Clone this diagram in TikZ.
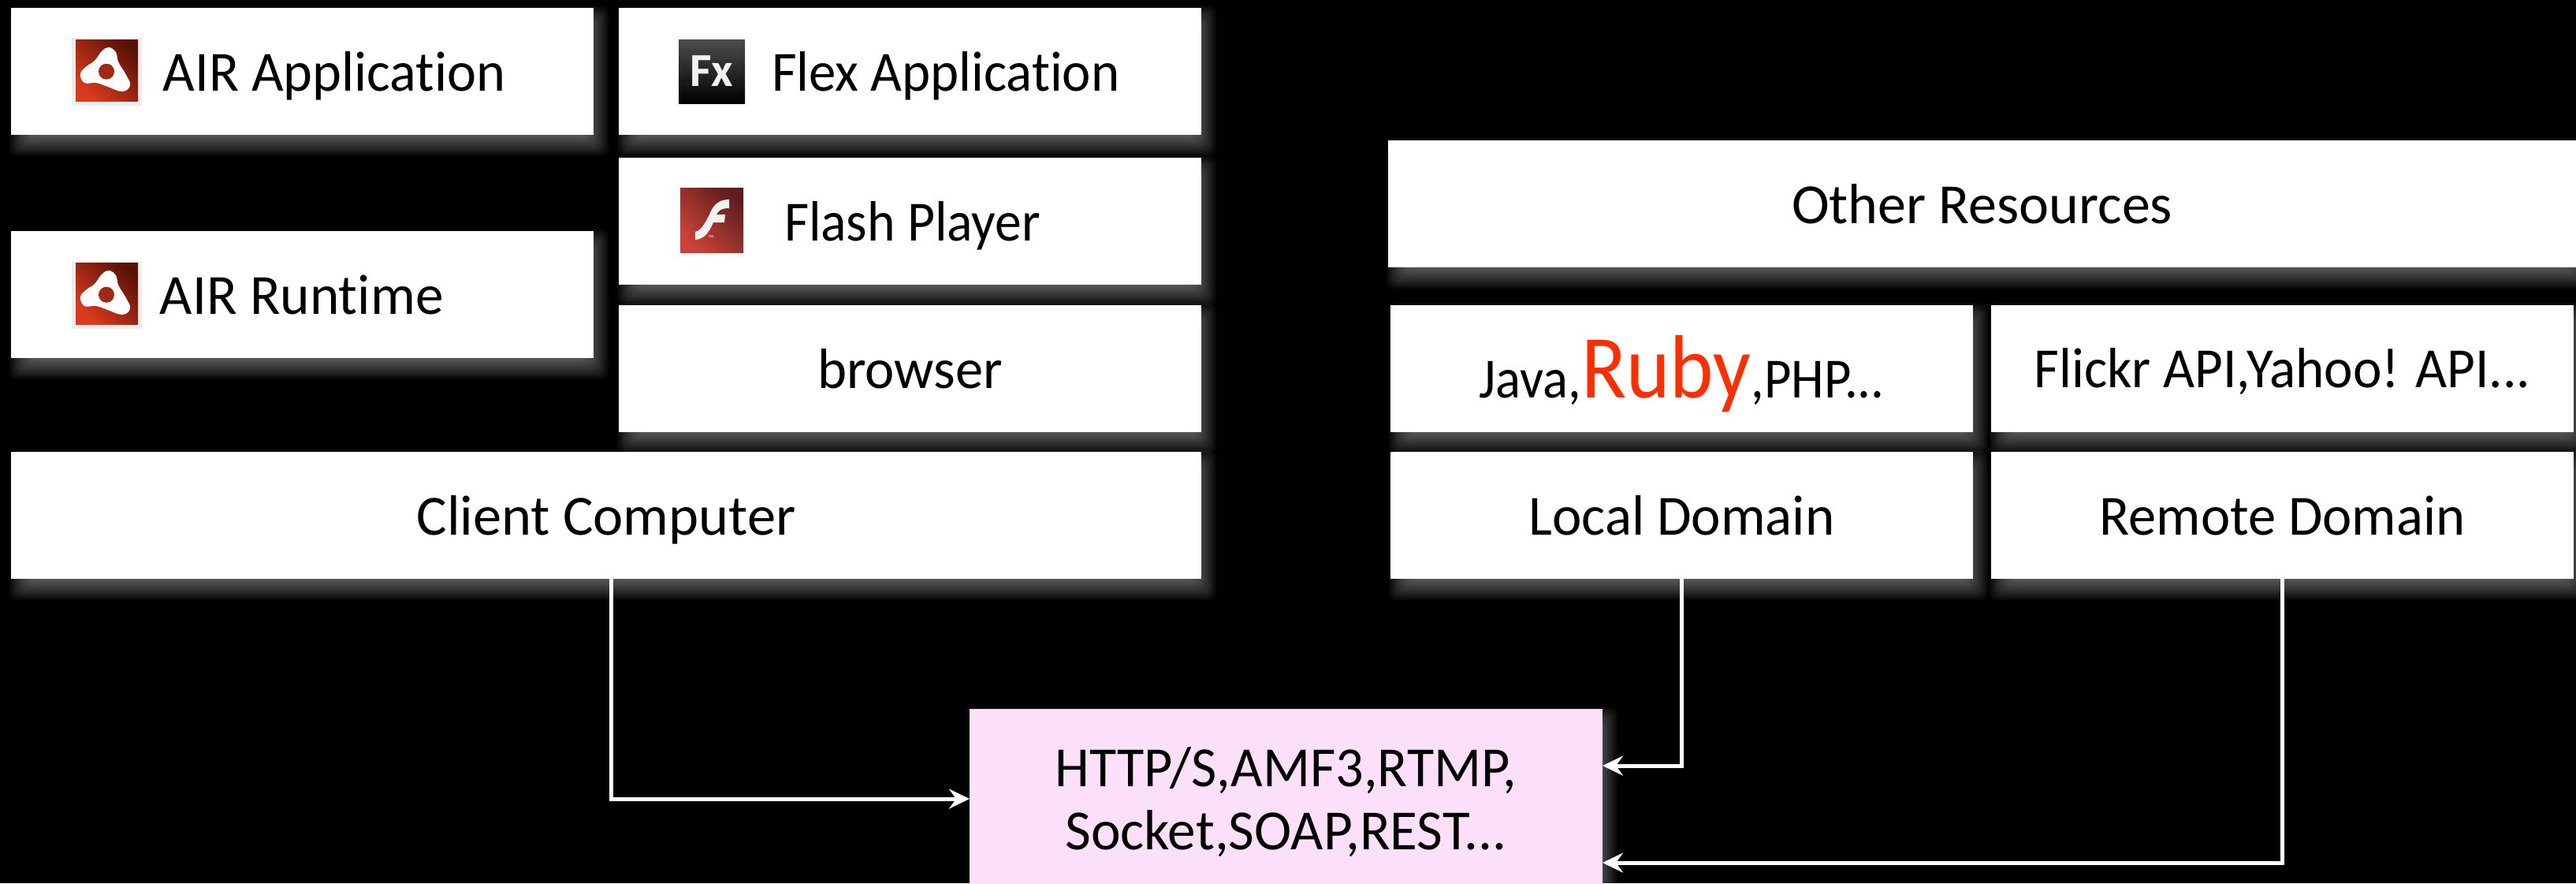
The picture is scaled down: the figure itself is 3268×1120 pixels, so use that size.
\documentclass[tikz,border=0pt]{standalone}
\usepackage{fontspec}
\setmainfont{Carlito}[Ligatures=NoCommon]
\usetikzlibrary{arrows.meta,backgrounds,calc}
\definecolor{pinkbox}{HTML}{FCE0FA}
\definecolor{rubyred}{HTML}{FF2E00}
\definecolor{airA}{HTML}{DC3A1E}
\definecolor{airB}{HTML}{5A1206}
\definecolor{airC}{HTML}{A02A12}
\definecolor{flA}{HTML}{CC4238}
\definecolor{flB}{HTML}{5E1E1E}
\newcommand{\lefttxt}[2]{\makebox[369.5pt][l]{\hspace*{#1}#2}}
\newcommand{\hs}[2]{{\addfontfeature{FakeStretch=#1}#2}}
\newcommand{\airicon}[1]{%
  \begin{scope}[yshift=#1]
    \fill[black!7] (91,48) rectangle (180,134);
    \shade[shading=axis,top color=airA,bottom color=airB,shading angle=135] (96,50) rectangle (175,128);
    \fill[white] plot[smooth cycle,tension=.7] coordinates {(138.3,60) (147.5,67) (150,78.3) (160,95) (165,108.3) (155,116) (136.7,110) (121.7,105) (107,105) (102,93.3) (110,84) (120,77) (129,65)};
    \fill[airC] (135,90.7) circle (10);
  \end{scope}}
\tikzset{
  panel/.style={rectangle,fill=white,text=black,inner sep=0pt,font=\fontsize{36}{40}\selectfont,text height=24.5pt,text depth=0pt,minimum height=80.5pt},
  wide/.style={panel,minimum width=369.5pt},
  link/.style={draw=white,line width=2.5pt,-{Stealth[length=13pt,width=12.5pt,inset=4.5pt]}},
}
\begin{document}
\begin{tikzpicture}[x=0.5pt,y=-0.5pt]
\useasboundingbox (0,0) rectangle (3268,1120);
\clip (0,0) rectangle (3268,1120);
\node[wide] (airapp) at (383.5,90.5) {\lefttxt{96.5pt}{\hs{.975}{AIR Application}}};
\node[wide] (airrun) at (383.5,373.5) {\lefttxt{94.5pt}{\hs{.99}{AIR Runtime}}};
\node[wide] (flexapp) at (1154.5,90.5) {\lefttxt{97pt}{\hs{.955}{Flex Application}}};
\node[wide] (flash) at (1154.5,280.5) {\lefttxt{105pt}{\hs{.94}{Flash Player}}};
\node[wide] (browser) at (1154.5,467.5) {\hs{.98}{browser}};
\node[panel,minimum width=755pt] (client) at (769,653.5) {\hs{1.005}{Client Computer}};
\node[panel,minimum width=753.5pt] (other) at (2514.5,258.5) {Other Resources};
\node[wide,text height=36.5pt] (java) at (2133.5,467.5) {\hs{.925}{Java,{\fontsize{57}{60}\selectfont\color{rubyred}Ruby},PHP...}};
\node[wide,text height=23.5pt] (flickr) at (2895.5,467.5) {\hs{.96}{Flickr API,Yahoo! API...}};
\node[wide] (local) at (2133.5,653.5) {\hs{.985}{Local Domain}};
\node[wide] (remote) at (2895.5,653.5) {\hs{.98}{Remote Domain}};
\node[panel,fill=pinkbox,minimum width=401.5pt,minimum height=113.5pt,text height=,align=center] (proto) at (1631.5,1012.5) {\hs{.975}{HTTP/S,AMF3,RTMP,}\\\hs{.99}{Socket,SOAP,REST...}};
\begin{scope}[on background layer]
  \fill[black] (0,0) rectangle (3268,1120);
  \foreach \n in {airapp,airrun,flexapp,flash,browser,client,other,java,flickr,local,remote,proto}
    \foreach \e in {-14,-12,...,14}
      \fill[white,fill opacity=.03,rounded corners=5pt] ($(\n.south west)+(12-\e,13+\e)$) rectangle ($(\n.north east)+(5+\e,12-\e)$);
\end{scope}
% icons
\airicon{0pt}
\airicon{-141.5pt}
\shade[shading=axis,top color=black!70,bottom color=black] (861,50) rectangle (945,131);
\node[text=white!95!black,inner sep=0pt,font=\fontsize{30}{30}\selectfont\bfseries] (fxmark) at (903,90) {Fx};
\shade[shading=axis,top color=flA,bottom color=flB,shading angle=135] (863,238) rectangle (943,320);
\fill[white!95!black] (925,253) -- (925,264) .. controls (914,264) and (911,268) .. (909,272) -- (920,272) -- (919,282) -- (905,282) .. controls (899,296) and (893,303) .. (882,304) -- (882,294) .. controls (890,292) and (895,282) .. (900,272) .. controls (904,262) and (910,253) .. (925,253) -- cycle;
\node[text=white!90!black,inner sep=0pt,font=\fontsize{5}{6}\selectfont] (flashtm) at (902,302) {™};
% connectors
\coordinate (clientOut) at (775,734);
\coordinate (protoA) at (1230,1013);
\coordinate (protoB) at (2033,971);
\coordinate (protoC) at (2033,1094);
\draw[link] (clientOut) |- (protoA);
\draw[link] (local.south) |- (protoB);
\draw[link] (remote.south) |- (protoC);
\end{tikzpicture}
\end{document}
